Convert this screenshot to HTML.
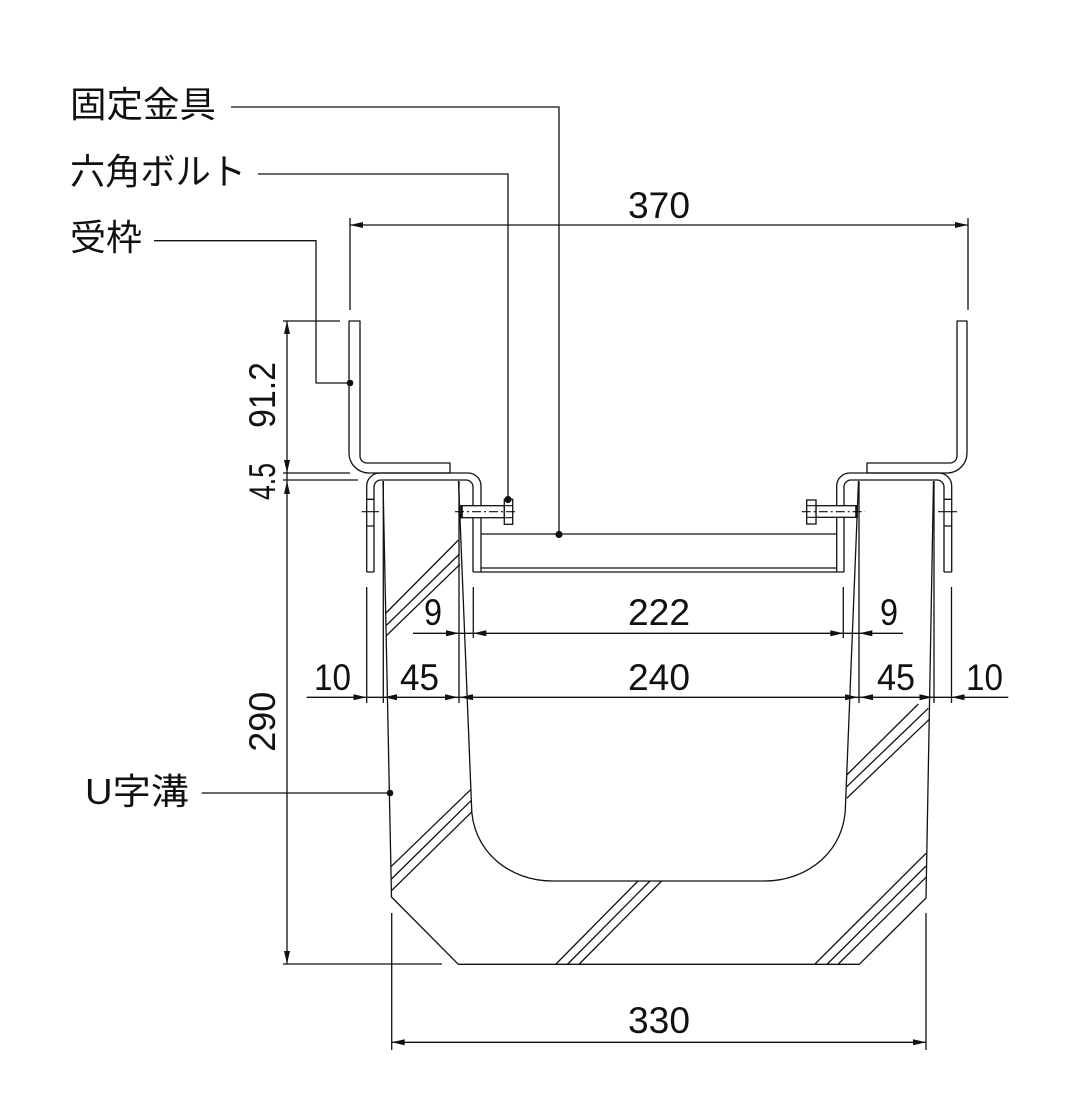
<!DOCTYPE html>
<html><head><meta charset="utf-8"><style>
html,body{margin:0;padding:0;background:#fff;}
svg{display:block;}
text{font-family:"Liberation Sans","Noto Sans CJK JP",sans-serif;fill:#111;}
</style></head><body>
<svg width="1078" height="1111" viewBox="0 0 1078 1111" xmlns="http://www.w3.org/2000/svg">
<rect width="1078" height="1111" fill="#fff"/>
<g fill="none" stroke="#111" stroke-width="1.3" stroke-linejoin="round">
<!-- leaders -->
<path d="M231,107 H559 V534"/>
<path d="M258,174 H508 V499"/>
<path d="M154,240.7 H316 V383 H350"/>
<path d="M201.7,793 H390"/>

<!-- 370 dim -->
<path d="M350,218 V310 M968,218 V310 M350,225 H968"/>

<!-- Receiving frame left -->
<path d="M349,321 V453 A20,20 0 0 0 369,473 H450 V463 H367 A7,7 0 0 1 360,456 V321 Z"/>
<!-- Receiving frame right -->
<path d="M967,321 V453 A20,20 0 0 1 947,473 H867 V463 H950 A7,7 0 0 0 957,456 V321 Z"/>

<!-- left bracket -->
<path d="M366.7,572 V486 A13,13 0 0 1 379.7,473 H468 A13,13 0 0 1 481,486 V572"/>
<path d="M374,572 V487 A7,7 0 0 1 381,480 H466 A7,7 0 0 1 473,487 V572"/>
<path d="M366.7,572 H374 M366.7,499.3 H374 M366.7,526 H374"/>
<!-- right bracket -->
<path d="M836.7,572 V486 A13,13 0 0 1 849.7,473 H938.7 A13,13 0 0 1 951.7,486 V572"/>
<path d="M844,572 V487 A7,7 0 0 1 851,480 H937 A7,7 0 0 1 944,487 V572"/>
<path d="M944,572 H951.7 M944,499.3 H951.7 M944,526 H951.7"/>
<!-- plate -->
<path d="M481,534 H836.7 M481,568 H836.7 M473,572 H844"/>

<!-- U channel -->
<path d="M383,481 L391.5,897 L458.3,964.3 H859.3 L926,898 L933.5,481"/>
<path d="M458.5,481 L471.5,805 C471.5,850 508,881 553,881 H764 C809,881 845.5,850 845.5,805 L858.5,481"/>

<!-- hatches -->
<path d="M386,613 L458.5,540 M386,625.7 L459.5,554 M386,636 L460,564.3"/>
<path d="M391,866.7 L471,789.3 M391.5,879 L471,800.7 M391.5,890.7 L472,811.7"/>
<path d="M556,964 L638,881 M567.7,964 L650,881 M579.3,964 L661.7,881"/>
<path d="M918.3,704 L846.7,775 M928.3,708.3 L846.7,786.7 M929.3,719.3 L846.7,798.3"/>
<path d="M926,853.3 L815,964 M926,866 L827.3,964 M926,877.3 L838.3,964"/>

<!-- left vertical dim -->
<path d="M287,321 V964"/>
<path d="M283,321 H340 M283,473 H350 M283,480 H358 M283,964 H442"/>

<!-- horizontal dims extension lines -->
<path d="M366.7,587 V703 M383.3,481 V703 M459,481 V703 M473.3,587 V638 M843.3,587 V638 M859,481 V703 M934,481 V703 M951.5,587 V703"/>
<path d="M413,633.3 H903"/>
<path d="M306.7,697.3 H1008.3"/>

<!-- 330 dim -->
<path d="M391.7,913 V1050 M926,913 V1050 M391.7,1042.3 H926"/>
</g>

<!-- bolts -->
<g stroke="#111" stroke-width="1.3" fill="#fff">
<rect x="461" y="505.7" width="43.3" height="12"/>
<rect x="504.3" y="499.3" width="8.4" height="25"/>
<rect x="816" y="505.7" width="41" height="11.6"/>
<rect x="806.7" y="500" width="9.3" height="24"/>
</g>
<g stroke="#111" fill="none">
<path stroke-width="1.2" d="M504.3,505.7 H512.7 M504.3,517.7 H512.7 M806.7,505.7 H816 M806.7,517.3 H816"/>
<path stroke-width="2.6" d="M461.5,505 V518.5 M856.5,505 V518"/>
<path stroke-width="1.1" stroke-dasharray="9 3 2 3" d="M455,511.7 H518 M801.7,511.7 H865"/>
<path stroke-width="1.1" d="M361.7,511.7 H379 M938,511.7 H957"/>
</g>

<!-- dots -->
<g fill="#111">
<circle cx="559" cy="534.5" r="3.6"/>
<circle cx="508" cy="499.5" r="3.6"/>
<circle cx="350" cy="383" r="3.3"/>
<circle cx="390" cy="793" r="3.3"/>
</g>

<!-- arrowheads -->
<g fill="#111">
<!-- 370 -->
<polygon points="350,225 363,222 363,228"/>
<polygon points="968,225 955,222 955,228"/>
<!-- vertical -->
<polygon points="287,321 284,334 290,334"/>
<polygon points="287,473 284,460 290,460"/>
<polygon points="287,481 284,494 290,494"/>
<polygon points="287,964 284,951 290,951"/>
<!-- y=633 -->
<polygon points="459,633.3 446,630.3 446,636.3"/>
<polygon points="473.3,633.3 486.3,630.3 486.3,636.3"/>
<polygon points="843.3,633.3 830.3,630.3 830.3,636.3"/>
<polygon points="859.3,633.3 872.3,630.3 872.3,636.3"/>
<!-- y=697 -->
<polygon points="366.5,697.3 353.5,694.3 353.5,700.3"/>
<polygon points="384,697.3 397,694.3 397,700.3"/>
<polygon points="458,697.3 445,694.3 445,700.3"/>
<polygon points="460,697.3 473,694.3 473,700.3"/>
<polygon points="858,697.3 845,694.3 845,700.3"/>
<polygon points="860,697.3 873,694.3 873,700.3"/>
<polygon points="932.5,697.3 919.5,694.3 919.5,700.3"/>
<polygon points="951.5,697.3 964.5,694.3 964.5,700.3"/>
<!-- 330 -->
<polygon points="391.7,1042.3 404.7,1039.3 404.7,1045.3"/>
<polygon points="926,1042.3 913,1039.3 913,1045.3"/>
</g>

<!-- labels -->
<g font-size="36">
<text x="70" y="117" textLength="146" lengthAdjust="spacingAndGlyphs">固定金具</text>
<text x="70" y="184" textLength="176" lengthAdjust="spacingAndGlyphs">六角ボルト</text>
<text x="70" y="250" textLength="72" lengthAdjust="spacingAndGlyphs">受枠</text>
<text x="85" y="804" textLength="104" lengthAdjust="spacingAndGlyphs">U字溝</text>
</g>

<!-- numbers -->
<g font-size="37">
<text x="628" y="218" textLength="62" lengthAdjust="spacingAndGlyphs">370</text>
<text x="628" y="625" textLength="62" lengthAdjust="spacingAndGlyphs">222</text>
<text x="424" y="625" textLength="18" lengthAdjust="spacingAndGlyphs">9</text>
<text x="880" y="625" textLength="18" lengthAdjust="spacingAndGlyphs">9</text>
<text x="314" y="690" textLength="37" lengthAdjust="spacingAndGlyphs">10</text>
<text x="400" y="690" textLength="39" lengthAdjust="spacingAndGlyphs">45</text>
<text x="628" y="690" textLength="62" lengthAdjust="spacingAndGlyphs">240</text>
<text x="877" y="690" textLength="38" lengthAdjust="spacingAndGlyphs">45</text>
<text x="966" y="690" textLength="37" lengthAdjust="spacingAndGlyphs">10</text>
<text x="628" y="1033" textLength="62" lengthAdjust="spacingAndGlyphs">330</text>
<text transform="translate(275,395) rotate(-90)" x="-33" y="0" textLength="66" lengthAdjust="spacingAndGlyphs">91.2</text>
<text transform="translate(275,481.5) rotate(-90)" x="-18.5" y="0" textLength="37" lengthAdjust="spacingAndGlyphs">4.5</text>
<text transform="translate(275,721.7) rotate(-90)" x="-30" y="0" textLength="60" lengthAdjust="spacingAndGlyphs">290</text>
</g>
</svg>
</body></html>
